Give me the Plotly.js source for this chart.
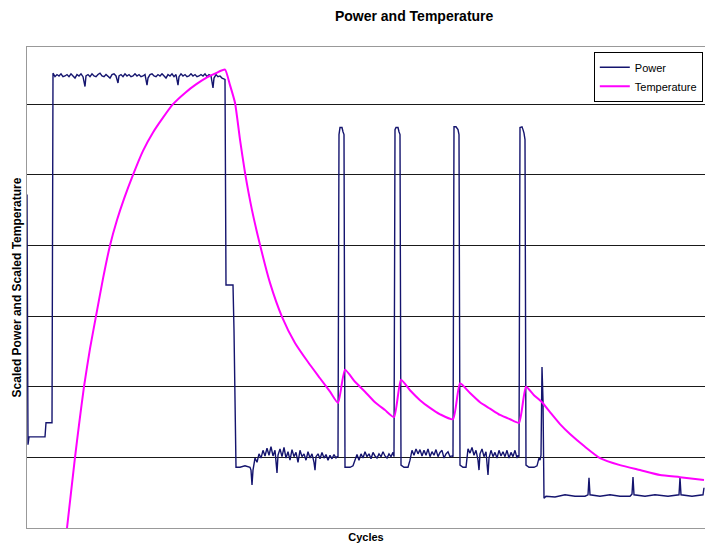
<!DOCTYPE html>
<html>
<head>
<meta charset="utf-8">
<script src="https://cdn.plot.ly/plotly-3.0.1.min.js"></script>
<style>html,body{margin:0;padding:0;background:#fff;}#chart{width:705px;height:546px;}</style>
</head>
<body>
<div id="chart"></div>
<script>
// Chart text
const chartTitle = "Power and Temperature";
const xTitle = "Cycles";
const yTitle = "Scaled Power and Scaled Temperature";
const seriesNames = ["Power", "Temperature"];

// Power series (cycles, scaled power)
const powerX = [0,1,2,18,19,25,
26,28,30,32,34,36,38,40,42,44,46,48,50,52,54,56,57,58,59,61,63,65,67,69,71,73,75,77,79,81,83,85,87,89,91,92,94,96,98,100,102,104,106,108,110,112,114,116,118,120,121,123,125,127,129,131,133,135,137,139,141,143,145,147,149,151,152,154,156,158,160,162,164,166,168,170,172,174,176,178,180,182,184,186,187,189,191,193,195,197,198,
199,206,207,208,209,213,218,223,224,225,226,228,230,232,234,236,238,240,242,244,246,248,250,251,253,255,257,259,261,263,265,267,269,271,273,275,277,279,281,283,285,287,288,289,291,293,295,297,299,301,303,305,307,309,310,
311,312,313,315,316,317,318,323,326,328,330,332,334,336,338,340,342,344,346,348,350,352,354,356,358,360,362,364,366,
367,368,369,371,372,373,374,377,381,383,385,387,389,391,393,395,397,399,401,403,405,407,409,411,413,415,417,419,421,423,425,
426,427,429,431,432,433,436,439,440,441,443,445,447,449,451,452,453,455,457,459,461,462,464,466,468,470,472,474,476,478,480,482,484,486,488,490,491,
492,493,495,496,497,498,499,502,507,510,511,512,513,514,515,516,517,519,528,538,548,558,561,562,563,573,583,593,603,605,606,607,618,628,641,652,653,654,665,676,677];
const powerY = [47.2,11.8,12.9,12.9,14.9,14.9,
64.4,63.9,64.2,64.0,64.3,63.9,64.0,64.2,63.9,64.3,64.0,63.7,64.2,64.0,64.3,63.9,63.2,62.5,64.0,64.2,63.9,64.3,64.0,63.9,64.2,64.4,64.0,63.9,64.2,64.0,63.7,64.2,64.3,64.0,63.0,64.0,64.2,63.9,64.3,64.0,64.2,63.9,64.0,64.3,64.0,64.2,63.9,64.0,64.2,62.7,63.7,64.2,64.3,64.0,63.9,64.2,64.0,64.3,64.0,63.7,64.2,64.0,64.3,63.9,64.2,62.7,63.9,64.3,64.0,64.2,63.9,64.0,64.3,64.0,64.2,63.9,64.0,64.2,64.0,64.3,63.9,64.2,64.0,62.3,63.7,64.2,63.9,64.0,63.7,63.6,63.5,
34.4,34.4,28.0,18.1,8.6,8.6,8.8,8.6,8.2,6.1,8.2,9.9,9.3,10.5,9.9,11.0,10.2,11.3,10.3,11.5,10.2,11.0,7.8,10.3,11.2,10.1,11.4,9.9,10.8,9.6,11.1,10.1,10.7,9.3,11.0,10.1,10.5,9.6,10.8,9.9,10.5,9.3,8.2,10.1,10.5,9.8,10.7,9.9,10.4,9.6,10.3,9.8,10.4,9.9,10.1,
10.1,55.7,56.7,56.7,56.1,55.7,8.6,8.6,8.8,9.6,10.4,9.6,10.5,9.9,10.8,10.1,10.5,9.8,10.7,10.2,9.9,10.5,10.1,10.8,10.2,9.9,10.5,10.1,10.7,
10.1,56.4,56.7,56.7,56.1,55.7,8.9,8.6,8.6,9.6,11.0,10.3,11.2,10.5,11.1,10.2,11.0,10.3,11.2,10.1,10.8,10.3,11.1,10.1,10.7,11.0,9.9,10.5,10.8,10.1,10.2,
10.1,56.8,56.8,56.4,55.7,8.9,8.6,8.6,9.6,11.2,10.6,11.4,10.3,11.0,9.6,8.2,10.5,11.2,10.1,10.8,7.5,9.9,11.0,10.1,10.7,9.9,11.0,10.2,10.8,10.1,11.0,9.9,10.7,10.1,11.0,9.9,10.3,
10.1,56.7,56.8,56.4,55.9,55.0,8.9,8.6,8.6,8.8,9.3,9.9,9.6,10.3,22.8,18.1,4.2,4.5,4.4,4.7,4.5,4.5,4.7,7.1,4.7,4.5,4.7,4.5,4.5,4.8,7.2,4.7,4.5,4.7,4.5,4.7,7.1,4.7,4.5,4.7,5.7];

// Temperature series (cycles, scaled temperature)
const tempX = [36,40,44,48,52,57,63,69,76,83,90,97,106,116,126,136,146,158,169,180,189,198,
203,208,213,218,225,233,243,255,268,281,293,303,311,
318,328,338,348,358,367,374,383,393,403,413,426,433,443,453,463,473,483,492,499,507,515,523,533,543,558,573,593,613,633,653,677];
const tempY = [-5.0,0.0,5.0,10.0,14.6,20.0,25.4,30.0,35.3,40.0,43.6,46.6,50.0,53.4,56.0,58.1,60.0,61.6,62.8,63.8,64.4,64.9,
62.7,60.2,55.0,50.3,45.0,40.1,34.7,29.9,26.2,23.5,21.2,19.3,17.7,
22.4,20.7,19.3,17.8,16.7,15.7,21.0,19.5,18.1,17.0,16.1,15.4,20.5,19.1,17.8,16.9,16.0,15.4,14.9,20.0,18.8,17.8,16.4,14.7,13.3,11.5,9.9,8.9,8.2,7.5,7.2,6.8];

const font = "Liberation Sans, Arial, sans-serif";

const traces = [
  {x: powerX, y: powerY, name: seriesNames[0], type: "scatter", mode: "lines",
   line: {color: "#14146e", width: 1.4}},
  {x: tempX, y: tempY, name: seriesNames[1], type: "scatter", mode: "lines",
   line: {color: "#ff00ff", width: 2, shape: "spline", smoothing: 0.5}}
];

const layout = {
  width: 705, height: 546,
  margin: {l: 27, r: 0, t: 47, b: 18},
  paper_bgcolor: "#fff", plot_bgcolor: "#fff",
  font: {family: font, color: "#000"},
  title: {text: "<b>" + chartTitle + "</b>", font: {size: 14, family: font, color: "#000"},
          x: 0.571, xref: "paper", xanchor: "center", y: 0.971, yref: "container", yanchor: "middle"},
  xaxis: {range: [0, 678], showgrid: false, zeroline: false, showticklabels: false, ticks: "",
          showline: true, linecolor: "#999", linewidth: 1, mirror: true,
          title: {text: "<b>" + xTitle + "</b>", font: {size: 11, family: font}, standoff: 5}},
  yaxis: {range: [0, 68.1], dtick: 10, tick0: 0, showgrid: true, gridcolor: "#1a1a1a", gridwidth: 1,
          zeroline: false, showticklabels: false, ticks: "",
          showline: true, linecolor: "#999", linewidth: 1, mirror: true,
          title: {text: "<b>" + yTitle + "</b>", font: {size: 12, family: font}, standoff: 1}},
  showlegend: true,
  legend: {x: 0.836, y: 0.99, xanchor: "left", yanchor: "top", bgcolor: "#fff",
           bordercolor: "#000", borderwidth: 1, font: {size: 11, family: font}, tracegroupgap: 0},
};

Plotly.newPlot("chart", traces, layout, {staticPlot: true, displayModeBar: false});
</script>
</body>
</html>
